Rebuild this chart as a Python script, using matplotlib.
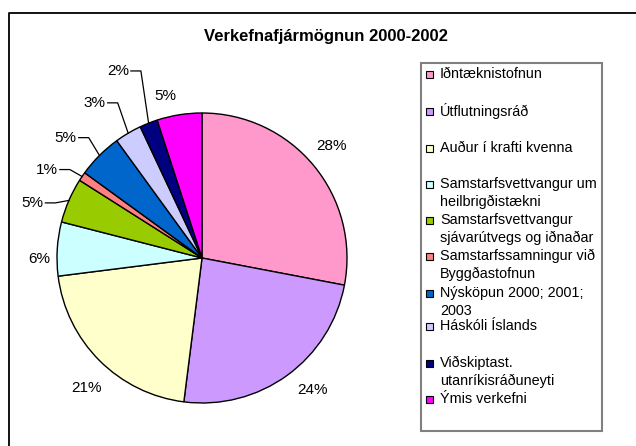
import matplotlib.pyplot as plt
import numpy as np
from matplotlib.patches import Rectangle

# Data
title = "Verkefnafjármögnun 2000-2002"
categories = [
    "Iðntæknistofnun",
    "Útflutningsráð",
    "Auður í krafti kvenna",
    "Samstarfsvettvangur um\nheilbrigðistækni",
    "Samstarfsvettvangur\nsjávarútvegs og iðnaðar",
    "Samstarfssamningur við\nByggðastofnun",
    "Nýsköpun 2000; 2001;\n2003",
    "Háskóli Íslands",
    "Viðskiptast.\nutanríkisráðuneyti",
    "Ýmis verkefni",
]
shares = [28, 24, 21, 6, 5, 1, 5, 3, 2, 5]
colors = ["#FF99CC", "#CC99FF", "#FFFFCC", "#CCFFFF", "#99CC00",
          "#FF8080", "#0066CC", "#CCCCFF", "#000080", "#FF00FF"]

# Layout (pixels, y measured from top)
W, H = 636, 446
cx, cy, R = 202, 258, 145
# label centre in units of the radius, relative to pie centre
label_pos = [(0.89, 0.77), (0.76, -0.91), (-0.80, -0.90), (-1.12, -0.01),
             (-1.17, 0.38), (-1.07, 0.61), (-0.94, 0.83), (-0.74, 1.07),
             (-0.58, 1.29), (-0.25, 1.12)]
leader = [False, False, False, False, True, True, True, True, True, False]
legend_y = [74, 111, 148, 184, 220, 256, 293, 326, 363, 399]
line_gap = 18

fig = plt.figure(figsize=(W / 100, H / 100), dpi=100)
ax = fig.add_axes([0, 0, 1, 1])

font = "Liberation Sans"

# Pie
wedges, _ = ax.pie(shares, colors=colors, startangle=90, counterclock=False,
                   center=(cx, H - cy), radius=R, frame=True,
                   wedgeprops=dict(edgecolor="black", linewidth=1.0))
ax.set_xlim(0, W)
ax.set_ylim(0, H)
ax.axis("off")

# outer chart frame (only left and top edges are inside the picture)
ax.plot([9, 9, W + 5], [-5, H - 13, H - 13], color="black", lw=1.3)

ax.text(326, H - 37, title, ha="center", va="center", fontsize=12,
        fontweight="bold", family=font)

total = sum(shares)
start = 90.0
for i, v in enumerate(shares):
    ang = start - 360.0 * v / total / 2
    start -= 360.0 * v / total
    lx, ly = label_pos[i]
    tx, ty = cx + lx * R, H - cy + ly * R
    ax.text(tx, ty, f"{v}%", ha="center", va="center", fontsize=11,
            family=font)
    if leader[i]:
        ex = cx + R * np.cos(np.radians(ang))
        ey = H - cy + R * np.sin(np.radians(ang))
        x0 = tx + 13
        ax.plot([x0, x0 + 10, ex], [ty, ty, ey], color="black", lw=0.9)

# Legend box
ax.add_patch(Rectangle((421, H - 431), 602 - 421, 431 - 63, facecolor="white",
                       edgecolor="#808080", lw=1.5))
for lab, col, y in zip(categories, colors, legend_y):
    ax.add_patch(Rectangle((426, H - y - 3.5), 7, 7, facecolor=col,
                           edgecolor="black", lw=0.8))
    for j, line in enumerate(lab.split("\n")):
        ax.text(440, H - y - line_gap * j, line, ha="left", va="center",
                fontsize=10.4, family=font)

fig.savefig("out.png", dpi=100)
